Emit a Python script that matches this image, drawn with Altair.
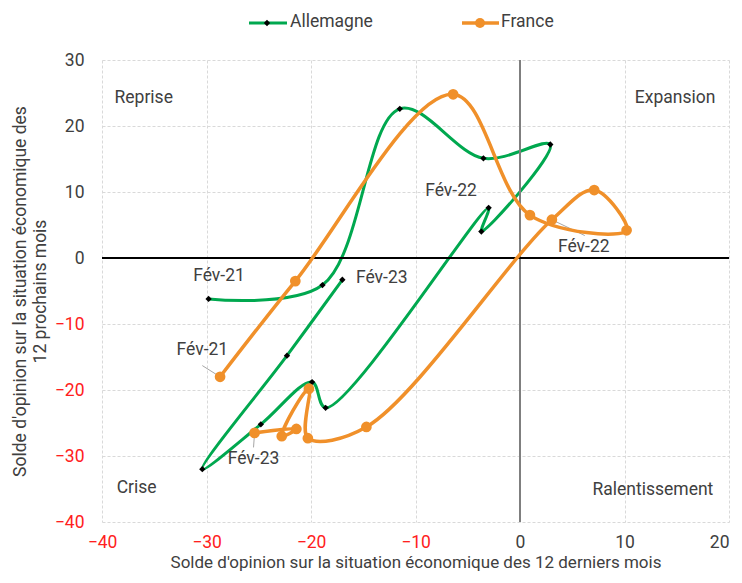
import altair as alt
import pandas as pd

FONT = "Roboto"
TXT = "#404040"
GREEN = "#00A84F"
ORANGE = "#F0902A"
FS = 17.5

series = ["Allemagne", "France"]

# Allemagne (solde passé, solde futur), ordre chronologique Fév-21 -> Fév-23
de_x = [-29.8, -18.9, -11.5, -3.5, 2.9, -3.7, -3.0, -18.6, -19.9, -24.8, -30.4, -22.3, -17.0]
de_y = [-6.2, -4.1, 22.6, 15.1, 17.2, 4.0, 7.6, -22.7, -18.8, -25.2, -32.0, -14.8, -3.3]
# France
fr_x = [-28.7, -21.5, -6.4, 0.95, 10.2, 7.1, 3.05, -14.7, -20.3, -20.2, -22.8, -21.4, -25.4]
fr_y = [-18.0, -3.5, 24.8, 6.5, 4.2, 10.3, 5.8, -25.6, -27.3, -19.8, -27.0, -25.9, -26.5]

x_ticks = [-40, -30, -20, -10, 0, 10, 20]
y_ticks = [-40, -30, -20, -10, 0, 10, 20, 30]

quad_labels = ["Reprise", "Expansion", "Crise", "Ralentissement"]
quad_x = [-38.8, 18.7, -38.6, 18.5]
quad_y = [24.2, 24.2, -34.8, -35.1]
quad_align = ["left", "right", "left", "right"]

ann_text = ["Fév-21", "Fév-21", "Fév-22", "Fév-22", "Fév-23", "Fév-23"]
ann_x = [-28.8, -30.4, -6.6, 6.1, -15.7, -25.5]
ann_y = [-2.7, -14.0, 10.1, 1.7, -3.1, -30.5]
ann_align = ["center", "center", "center", "center", "left", "center"]

lead_x = [-30.4, 6.2, -25.5]
lead_y = [-16.3, 3.4, -28.7]
lead_x2 = [-28.7, 3.05, -25.4]
lead_y2 = [-18.0, 5.8, -26.5]

de = pd.DataFrame({"x": de_x, "y": de_y, "i": range(len(de_x))})
fr = pd.DataFrame({"x": fr_x, "y": fr_y, "i": range(len(fr_x))})
quad = pd.DataFrame({"t": quad_labels, "x": quad_x, "y": quad_y, "a": quad_align})
ann = pd.DataFrame({"t": ann_text, "x": ann_x, "y": ann_y, "a": ann_align})
lead = pd.DataFrame({"x": lead_x, "y": lead_y, "x2": lead_x2, "y2": lead_y2})

neg_red = {"condition": {"test": "datum.value < 0", "value": "#FF2020"}, "value": TXT}
last_right = {"condition": {"test": "datum.value >= 20", "value": "right"}, "value": "center"}

xs = alt.Scale(domain=[-40, 20], nice=False, zero=False)
ys = alt.Scale(domain=[-40, 30], nice=False, zero=False)

X = alt.X("x:Q", scale=xs, axis=alt.Axis(
    values=x_ticks, grid=True, gridDash=[3, 2], gridColor="#d9d9d9", domain=False,
    ticks=False, labelColor=neg_red, labelFontSize=FS, labelPadding=11, labelFont=FONT,
    labelFlush=False, labelOverlap=False, labelAlign=last_right,
    title="Solde d'opinion sur la situation économique des 12 derniers mois",
    titleFontSize=17, titleFontWeight="normal", titleColor=TXT, titleFont=FONT,
    titlePadding=4))
Y = alt.Y("y:Q", scale=ys, axis=alt.Axis(
    values=y_ticks, grid=True, gridDash=[3, 2], gridColor="#d9d9d9", domain=False,
    ticks=False, labelColor=neg_red, labelFontSize=FS, labelPadding=18, labelFont=FONT,
    labelFlush=False, labelOverlap=False,
    title=["Solde d'opinion sur la situation économique des", "12 prochains mois"],
    titleFontSize=FS, titleFontWeight="normal", titleColor=TXT, titleFont=FONT,
    titlePadding=5))

base_de = alt.Chart(de)
base_fr = alt.Chart(fr)

zero_v = alt.Chart(de).mark_rule(color="#7f7f7f", strokeWidth=1.5).encode(x=alt.datum(0, scale=xs))
zero_h = alt.Chart(de).mark_rule(color="#000000", strokeWidth=1).encode(y=alt.datum(0, scale=ys))

de_line = base_de.mark_line(interpolate="catmull-rom", color=GREEN, strokeWidth=3).encode(
    x=X, y=Y, order="i:Q")
de_pts = base_de.mark_point(shape="diamond", filled=True, color="black", size=40, opacity=1).encode(
    x="x:Q", y="y:Q")
fr_line = base_fr.mark_line(interpolate="catmull-rom", color=ORANGE, strokeWidth=3.5).encode(
    x="x:Q", y="y:Q", order="i:Q")
fr_pts = base_fr.mark_circle(color=ORANGE, size=115, opacity=1).encode(x="x:Q", y="y:Q")

quad_layers = []
for al in ["left", "right"]:
    quad_layers.append(alt.Chart(quad).transform_filter(alt.datum.a == al).mark_text(
        align=al, baseline="middle", font=FONT, fontSize=FS, color=TXT).encode(
        x="x:Q", y="y:Q", text="t:N"))
ann_layers = []
for al in ["left", "center"]:
    ann_layers.append(alt.Chart(ann).transform_filter(alt.datum.a == al).mark_text(
        align=al, baseline="middle", font=FONT, fontSize=FS, color=TXT).encode(
        x="x:Q", y="y:Q", text="t:N"))
leaders = alt.Chart(lead).mark_rule(color="#a6a6a6", strokeWidth=1).encode(
    x="x:Q", y="y:Q", x2="x2:Q", y2="y2:Q")

# legend (decoration, pixel-positioned above plot)
leg = pd.DataFrame({"s": series})
LY = -37
leg_g_line = alt.Chart(leg).transform_filter(alt.datum.s == series[0]).mark_rule(
    color=GREEN, strokeWidth=3).encode(x=alt.value(147), x2=alt.value(185), y=alt.value(LY))
leg_g_pt = alt.Chart(leg).transform_filter(alt.datum.s == series[0]).mark_point(
    shape="diamond", filled=True, color="black", size=40, opacity=1).encode(
    x=alt.value(165), y=alt.value(LY))
leg_g_txt = alt.Chart(leg).transform_filter(alt.datum.s == series[0]).mark_text(
    align="left", baseline="middle", font=FONT, fontSize=FS, color=TXT).encode(
    x=alt.value(188), y=alt.value(LY - 1), text="s:N")
leg_f_line = alt.Chart(leg).transform_filter(alt.datum.s == series[1]).mark_rule(
    color=ORANGE, strokeWidth=3.5).encode(x=alt.value(360), x2=alt.value(397), y=alt.value(LY))
leg_f_pt = alt.Chart(leg).transform_filter(alt.datum.s == series[1]).mark_circle(
    color=ORANGE, size=100, opacity=1).encode(x=alt.value(378), y=alt.value(LY))
leg_f_txt = alt.Chart(leg).transform_filter(alt.datum.s == series[1]).mark_text(
    align="left", baseline="middle", font=FONT, fontSize=FS, color=TXT).encode(
    x=alt.value(399), y=alt.value(LY - 1), text="s:N")

chart = alt.layer(
    de_line, zero_v, zero_h, leaders, de_pts, fr_line, fr_pts,
    *quad_layers, *ann_layers,
    leg_g_line, leg_g_pt, leg_g_txt, leg_f_line, leg_f_pt, leg_f_txt,
).properties(
    width=627, height=462,
    padding={"left": 3, "top": 5, "right": 0, "bottom": 0},
).configure_view(stroke=None)

chart.save("out.html", embed_options={"renderer": "svg", "actions": False})
